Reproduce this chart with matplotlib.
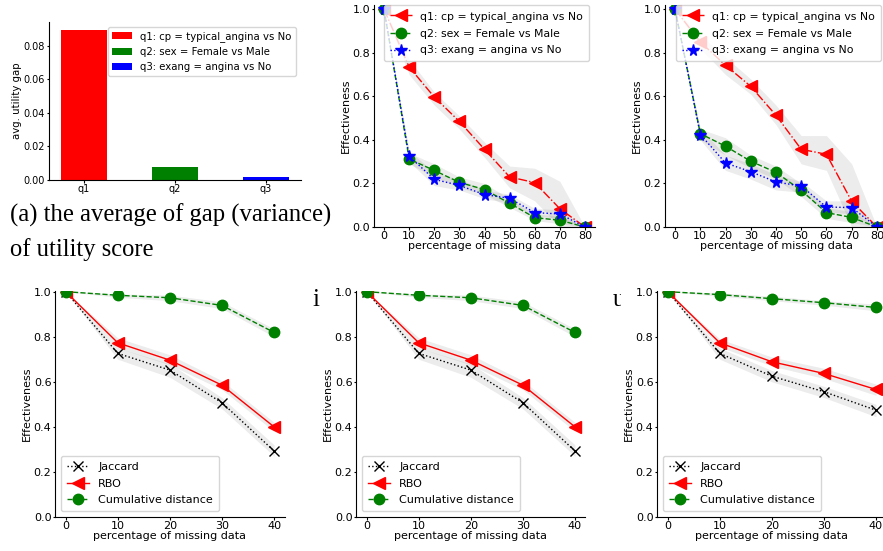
import matplotlib
matplotlib.use("Agg")
import matplotlib.pyplot as plt  # noqa: E402
from matplotlib.transforms import Bbox  # noqa: E402

W, H = 883, 551

# --- (a) bar chart ---
bar_labels = ["q1", "q2", "q3"]
bar_gap = [0.0895, 0.0078, 0.0018]
bar_colors = ["red", "green", "blue"]
query_names = ["q1: cp = typical_angina vs No",
               "q2: sex = Female vs Male",
               "q3: exang = angina vs No"]

# --- top row line charts ---
missing_top = [0, 10, 20, 30, 40, 50, 60, 70, 80]

b_q1 = [1.0, 0.735, 0.597, 0.485, 0.357, 0.23, 0.204, 0.084, 0.0]
b_q1_lo = [1.0, 0.70, 0.56, 0.45, 0.32, 0.18, 0.12, 0.0, 0.0]
b_q1_hi = [1.0, 0.77, 0.62, 0.51, 0.39, 0.28, 0.27, 0.21, 0.0]
b_q2 = [1.0, 0.312, 0.26, 0.205, 0.172, 0.109, 0.043, 0.031, 0.0]
b_q2_lo = [1.0, 0.29, 0.23, 0.18, 0.15, 0.09, 0.03, 0.015, 0.0]
b_q2_hi = [1.0, 0.34, 0.29, 0.23, 0.20, 0.13, 0.06, 0.05, 0.0]
b_q3 = [1.0, 0.325, 0.219, 0.191, 0.149, 0.132, 0.066, 0.06, 0.0]
b_q3_lo = [1.0, 0.30, 0.19, 0.17, 0.13, 0.11, 0.05, 0.04, 0.0]
b_q3_hi = [1.0, 0.35, 0.25, 0.22, 0.17, 0.15, 0.085, 0.08, 0.0]

c_q1 = [1.0, 0.85, 0.743, 0.646, 0.513, 0.357, 0.334, 0.118, 0.0]
c_q1_lo = [1.0, 0.82, 0.70, 0.61, 0.47, 0.29, 0.26, 0.0, 0.0]
c_q1_hi = [1.0, 0.88, 0.78, 0.68, 0.56, 0.42, 0.42, 0.29, 0.0]
c_q2 = [1.0, 0.429, 0.371, 0.302, 0.251, 0.168, 0.066, 0.044, 0.0]
c_q2_lo = [1.0, 0.40, 0.33, 0.27, 0.22, 0.14, 0.04, 0.02, 0.0]
c_q2_hi = [1.0, 0.45, 0.41, 0.33, 0.28, 0.20, 0.09, 0.07, 0.0]
c_q3 = [1.0, 0.425, 0.294, 0.254, 0.207, 0.188, 0.092, 0.089, 0.0]
c_q3_lo = [1.0, 0.40, 0.26, 0.22, 0.17, 0.16, 0.07, 0.06, 0.0]
c_q3_hi = [1.0, 0.45, 0.33, 0.29, 0.24, 0.21, 0.12, 0.12, 0.0]

# --- bottom row line charts ---
missing_bottom = [0, 10, 20, 30, 40]
measure_names = ["Jaccard", "RBO", "Cumulative distance"]

d_jac = [1.0, 0.726, 0.652, 0.507, 0.293]
d_jac_lo = [1.0, 0.70, 0.62, 0.48, 0.27]
d_jac_hi = [1.0, 0.75, 0.68, 0.53, 0.32]
d_rbo = [1.0, 0.773, 0.696, 0.585, 0.40]
d_rbo_lo = [1.0, 0.75, 0.675, 0.565, 0.38]
d_rbo_hi = [1.0, 0.795, 0.72, 0.605, 0.42]
d_cum = [1.0, 0.984, 0.973, 0.939, 0.819]
d_cum_lo = [1.0, 0.975, 0.96, 0.925, 0.80]
d_cum_hi = [1.0, 0.99, 0.985, 0.955, 0.835]

e_jac = [1.0, 0.726, 0.652, 0.507, 0.293]
e_jac_lo = [1.0, 0.70, 0.62, 0.48, 0.27]
e_jac_hi = [1.0, 0.75, 0.68, 0.53, 0.32]
e_rbo = [1.0, 0.773, 0.696, 0.585, 0.40]
e_rbo_lo = [1.0, 0.75, 0.675, 0.565, 0.38]
e_rbo_hi = [1.0, 0.795, 0.72, 0.605, 0.42]
e_cum = [1.0, 0.984, 0.973, 0.939, 0.819]
e_cum_lo = [1.0, 0.975, 0.96, 0.925, 0.80]
e_cum_hi = [1.0, 0.99, 0.985, 0.955, 0.835]

f_jac = [1.0, 0.726, 0.625, 0.556, 0.474]
f_jac_lo = [1.0, 0.70, 0.60, 0.53, 0.445]
f_jac_hi = [1.0, 0.75, 0.65, 0.58, 0.50]
f_rbo = [1.0, 0.773, 0.689, 0.637, 0.566]
f_rbo_lo = [1.0, 0.755, 0.67, 0.615, 0.54]
f_rbo_hi = [1.0, 0.79, 0.71, 0.66, 0.59]
f_cum = [1.0, 0.987, 0.969, 0.951, 0.93]
f_cum_lo = [1.0, 0.98, 0.96, 0.94, 0.915]
f_cum_hi = [1.0, 0.995, 0.98, 0.96, 0.945]

BAND = dict(color="gray", alpha=0.15, lw=0)
SERIF = "Liberation Serif"


def px_axes(fig, left, top, right, bottom):
    """Add axes from a pixel box (origin top-left)."""
    return fig.add_axes([left / W, 1 - bottom / H, (right - left) / W, (bottom - top) / H])


def despine(ax):
    ax.spines["top"].set_visible(False)
    ax.spines["right"].set_visible(False)


def common(ax, fs=8):
    ax.tick_params(labelsize=fs, length=1.8, pad=1)
    ax.set_xlabel("percentage of missing data", fontsize=8, labelpad=0)
    ax.set_ylabel("Effectiveness", fontsize=8, labelpad=1.3)
    despine(ax)


def top_panel(ax, series):
    styles = [("r", "<", "-.", 9), ("g", "o", "--", 7.5), ("b", "*", ":", 8.5)]
    for (y, lo, hi), name, (c, m, ls, ms) in zip(series, query_names, styles):
        ax.fill_between(missing_top, lo, hi, **BAND)
        ax.plot(missing_top, y, color=c, marker=m, ls=ls, lw=1, ms=ms, label=name)
    ax.set_xlim(-4, 84)
    ax.set_ylim(0, 1.02)
    ax.set_xticks(missing_top)
    ax.set_yticks([0, 0.2, 0.4, 0.6, 0.8, 1.0])
    common(ax)
    ax.legend(loc="upper right", bbox_to_anchor=(0.973, 1.0), borderaxespad=0,
              fontsize=7.8, labelspacing=0.62, borderpad=0.55)


def bottom_panel(ax, series):
    styles = [("k", "x", ":", 7.5), ("r", "<", "-", 9), ("g", "o", "--", 7.5)]
    for (y, lo, hi), name, (c, m, ls, ms) in zip(series, measure_names, styles):
        ax.fill_between(missing_bottom, lo, hi, **BAND)
        ax.plot(missing_bottom, y, color=c, marker=m, ls=ls, lw=1, ms=ms, label=name)
    ax.set_xlim(-2, 42)
    ax.set_ylim(0, 1.003)
    ax.set_xticks(missing_bottom)
    ax.set_yticks([0, 0.2, 0.4, 0.6, 0.8, 1.0])
    common(ax)
    ax.legend(loc="lower left", fontsize=8, labelspacing=0.6, borderpad=0.55)


fig = plt.figure(figsize=(W / 100, H / 100), dpi=100)

# (a)
ax = px_axes(fig, 49, 22, 301, 180)
for i, (lab, v, c, name) in enumerate(zip(bar_labels, bar_gap, bar_colors, query_names)):
    ax.bar(i, v, width=0.5, color=c, label=name)
ax.set_xticks(range(len(bar_labels)))
ax.set_xticklabels(bar_labels)
ax.set_xlim(-0.385, 2.385)
ax.set_ylim(0, 0.0943)
ax.set_yticks([0, 0.02, 0.04, 0.06, 0.08])
ax.tick_params(labelsize=7, length=1.8, pad=1)
ax.set_ylabel("avg. utility gap", fontsize=7.3, labelpad=1.5)
ax.legend(loc="upper right", fontsize=7.3)
despine(ax)

fig.text(10 / W, 1 - 222 / H, "(a) the average of gap (variance)",
         family=SERIF, fontsize=17.7, va="baseline")
fig.text(10 / W, 1 - 256 / H, "of utility score",
         family=SERIF, fontsize=17.7, va="baseline")

# (b), (c)
top_panel(px_axes(fig, 374, 5, 595, 227),
          [(b_q1, b_q1_lo, b_q1_hi), (b_q2, b_q2_lo, b_q2_hi), (b_q3, b_q3_lo, b_q3_hi)])
top_panel(px_axes(fig, 665, 5, 887, 227),
          [(c_q1, c_q1_lo, c_q1_hi), (c_q2, c_q2_lo, c_q2_hi), (c_q3, c_q3_lo, c_q3_hi)])

# caption remnants peeking out in the bottom row
fig.text(312 / W, 1 - 306 / H, "i", family=SERIF, fontsize=17.7, va="baseline")
t = fig.text(613 / W, 1 - 306 / H, "u", family=SERIF, fontsize=17.7, va="baseline")
t.set_clip_box(Bbox.from_extents(0, 0, 621, H))
t.set_clip_on(True)

# (d), (e), (f)
bottom_panel(px_axes(fig, 55.3, 291, 284.5, 517),
             [(d_jac, d_jac_lo, d_jac_hi), (d_rbo, d_rbo_lo, d_rbo_hi), (d_cum, d_cum_lo, d_cum_hi)])
bottom_panel(px_axes(fig, 356.3, 291, 585.4, 517),
             [(e_jac, e_jac_lo, e_jac_hi), (e_rbo, e_rbo_lo, e_rbo_hi), (e_cum, e_cum_lo, e_cum_hi)])
bottom_panel(px_axes(fig, 657.3, 291, 886.4, 517),
             [(f_jac, f_jac_lo, f_jac_hi), (f_rbo, f_rbo_lo, f_rbo_hi), (f_cum, f_cum_lo, f_cum_hi)])

fig.savefig("out.png", dpi=100)
